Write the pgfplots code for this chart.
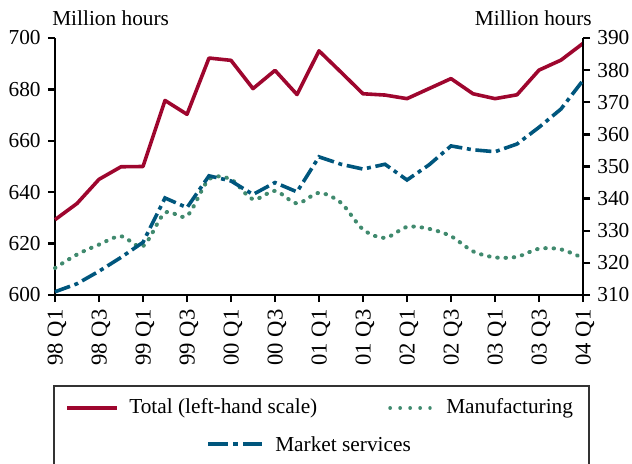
\documentclass[border=0pt]{standalone}
\usepackage{fontspec}
\setmainfont{Liberation Serif}
\usepackage{pgfplots}
\pgfplotsset{compat=1.18}

\definecolor{totred}{RGB}{158,6,46}
\definecolor{mktblue}{RGB}{0,86,125}
\definecolor{mfggreen}{RGB}{64,138,110}

\pgfplotstableread{
q total
0 629.3
1 635.6
2 645.0
3 649.9
4 650.0
5 675.7
6 670.3
7 692.2
8 691.3
9 680.3
10 687.4
11 678.0
12 695.0
13 686.7
14 678.3
15 677.8
16 676.4
17 680.3
18 684.2
19 678.3
20 676.4
21 677.9
22 687.5
23 691.4
24 697.9
}\totaltab

\pgfplotstableread{
q mkt mfg
0 311.0 318.4
1 313.5 322.6
2 317.4 325.7
3 321.7 328.3
4 326.4 325.2
5 340.2 335.6
6 337.2 334.6
7 347.1 346.0
8 345.5 346.0
9 341.3 339.8
10 345.0 342.4
11 342.1 338.5
12 353.0 341.8
13 350.7 338.7
14 349.2 330.4
15 350.7 327.8
16 345.8 331.2
17 350.5 330.6
18 356.4 328.3
19 355.2 323.6
20 354.6 321.7
21 357.0 321.9
22 362.2 324.4
23 367.9 324.2
24 376.8 321.5
}\righttab

\pgfplotsset{
  common/.style={
    scale only axis, width=396pt, height=192.75pt,
    xmin=0, xmax=24,
    tick align=outside, major tick length=5.25pt,
    axis line style={line width=1.8pt, -},
    tick style={line width=1.8pt, black},
    tick label style={font=\fontsize{16}{16}\selectfont},
    /pgf/number format/assume math mode=true,
    clip=false,
  },
  dashdot/.style={dash pattern=on 12pt off 3.5pt on 3pt off 3.5pt},
}

\begin{document}
\fontsize{16}{19}\selectfont
\begin{tikzpicture}
\begin{axis}[common, name=main,
  ymin=600, ymax=700,
  axis x line*=bottom, axis y line*=left,
  xtick={0,2,...,24},
  xticklabels={98 Q1,98 Q3,99 Q1,99 Q3,00 Q1,00 Q3,01 Q1,01 Q3,02 Q1,02 Q3,03 Q1,03 Q3,04 Q1},
  x tick label style={rotate=90, anchor=east, font=\fontsize{17}{17}\selectfont, yshift=-1.5pt},
  ytick={600,620,...,700},
]
\addplot[totred, line width=2.7pt, line join=round] table[x=q, y=total] {\totaltab};
\end{axis}
\begin{axis}[common, at={(main.south west)}, anchor=south west,
  ymin=310, ymax=390,
  axis y line*=right, axis x line=none,
  ytick={310,320,...,390},
]
\addplot[mfggreen, line width=3pt, line cap=round, dash pattern=on 0.4pt off 5.8pt, smooth, tension=0.5] table[x=q, y=mfg] {\righttab};
\addplot[mktblue, line width=2.7pt, dashdot] table[x=q, y=mkt] {\righttab};
\end{axis}
\begin{scope}[shift={([shift={(-41.25pt,221.25pt)}]main.south west)}, x=0.75pt, y=-0.75pt]
  \node[anchor=west, inner sep=0pt] at (52,18) {Million hours};
  \node[anchor=east, inner sep=0pt] at (592,18) {Million hours};
  \draw[line width=1pt, black!80] (54,464) -- (54,386) -- (589,386) -- (589,464);
  \draw[totred, line width=2.7pt] (67,408) -- (117,408);
  \node[anchor=west, inner sep=0pt] at (129,408) {Total (left-hand scale)};
  \draw[mfggreen, line width=2.6pt, line cap=round, dash pattern=on 0.2pt off 7.3pt] (390,408) -- (430,408);
  \node[anchor=west, inner sep=0pt] at (446,408) {Manufacturing};
  \draw[mktblue, line width=2.7pt, dash pattern=on 15pt off 3.75pt on 3.75pt off 3.75pt] (208,444) -- (262,444);
  \node[anchor=west, inner sep=0pt] at (275,444) {Market services};
  \pgfresetboundingbox
  \path[use as bounding box] (0,0) rectangle (632,464);
\end{scope}
\end{tikzpicture}
\end{document}
